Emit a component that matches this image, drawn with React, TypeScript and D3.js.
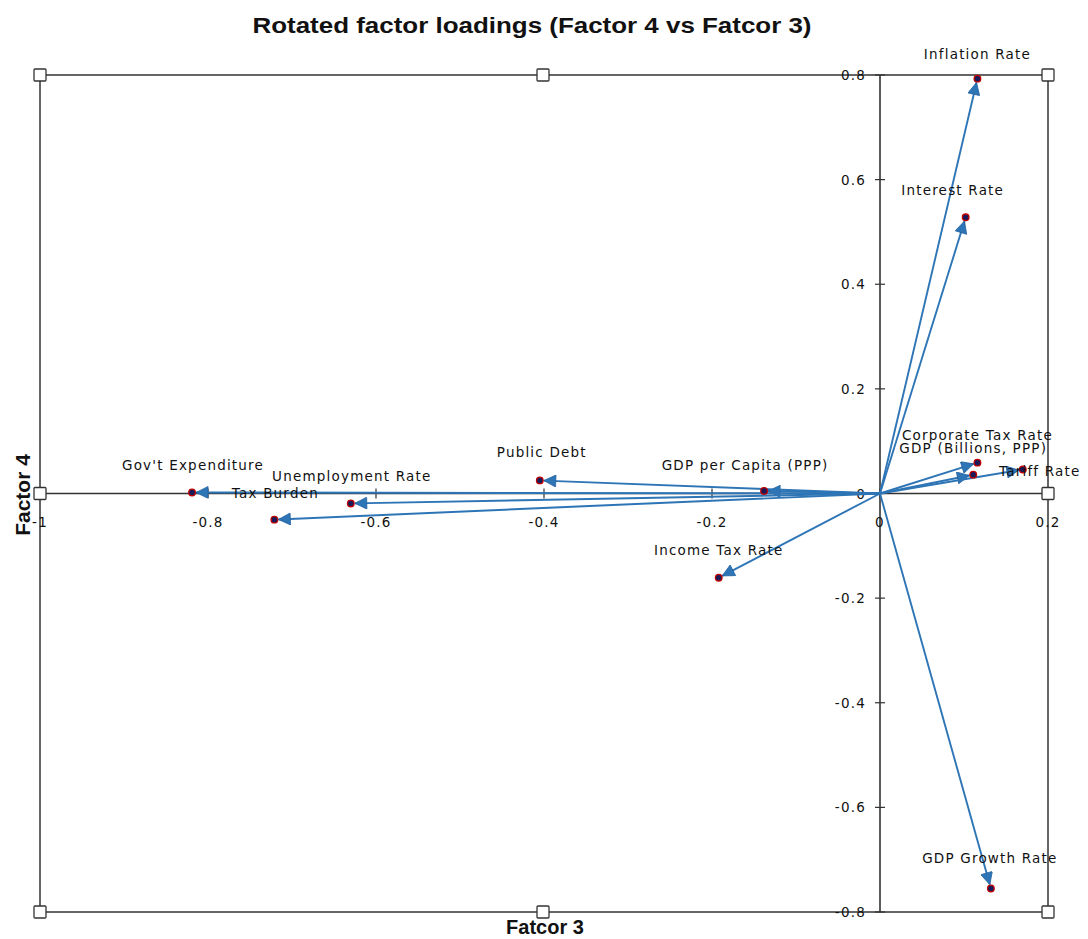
import React from 'react';
import * as d3 from 'd3';

const variables = [
  'Inflation Rate', 'Interest Rate', 'Corporate Tax Rate', 'GDP (Billions, PPP)', 'Tariff Rate',
  'GDP Growth Rate', 'Income Tax Rate', 'GDP per Capita (PPP)', 'Public Debt', "Gov't Expenditure",
  'Unemployment Rate', 'Tax Burden',
];
const factor3 = [0.116, 0.102, 0.116, 0.111, 0.170, 0.132, -0.192, -0.138, -0.405, -0.819, -0.630, -0.721];
const factor4 = [0.793, 0.528, 0.059, 0.036, 0.046, -0.755, -0.161, 0.005, 0.025, 0.002, -0.019, -0.050];
const xTicks = [-1, -0.8, -0.6, -0.4, -0.2, 0, 0.2];
const yTicks = [-0.8, -0.6, -0.4, -0.2, 0, 0.2, 0.4, 0.6, 0.8];
// label nudges (layout, px)
const labelDx = [0, -13, 0, 0, 17, -1, 0, -19, 2, 1, 1, 1];
const labelDy = [-25, -27, -28, -27, 2, -30, -28, -26, -28, -27, -27, -27];

const W = 1088, H = 939;
const L = 40, R = 1048, T = 75, B = 912;

export default function App() {
  const x = d3.scaleLinear().domain([-1, 0.2]).range([L, R]);
  const y = d3.scaleLinear().domain([-0.8, 0.8]).range([B, T]);
  const x0 = x(0), y0 = y(0);
  const blue = '#2E75B6';
  const lblFont = { fontFamily: 'DejaVu Sans', fontSize: 13.5, letterSpacing: 1.2 } as const;
  const handles = [[L, T], [543, T], [R, T], [L, y0], [R, y0], [L, B], [543, B], [R, B]];
  const fmt = (v: number) => {
    if (v === 0) return '0';
    const s = d3.format('.1f')(v).replace('\u2212', '-');
    return s === '-1.0' ? '-1' : s;
  };

  return (
    <svg width={W} height={H} style={{ position: 'absolute', left: 0, top: 0, background: '#fff' }}>
      <defs>
        <marker id="ah" viewBox="0 0 10 10" refX="10" refY="5" markerWidth="16" markerHeight="12"
          markerUnits="userSpaceOnUse" orient="auto">
          <path d="M0,0 L10,5 L0,10 Z" fill={blue} stroke="#1f5f9f" strokeWidth={0.6} />
        </marker>
      </defs>
      <text x={532} y={33} textAnchor="middle" fontFamily="Liberation Sans, Arial" fontWeight="bold"
        fontSize={22} textLength={559} lengthAdjust="spacingAndGlyphs" fill="#111">
        Rotated factor loadings (Factor 4 vs Fatcor 3)
      </text>
      {/* frame */}
      <rect x={L} y={T} width={R - L} height={B - T} fill="none" stroke="#333" strokeWidth={1.5} />
      {/* axes */}
      <line x1={L} x2={R} y1={y0} y2={y0} stroke="#333" strokeWidth={1.6} />
      <line x1={x0} x2={x0} y1={T} y2={B} stroke="#333" strokeWidth={1.6} />
      {xTicks.map((t) => (
        <g key={'xt' + t}>
          <line x1={x(t)} x2={x(t)} y1={y0 - 5} y2={y0 + 5} stroke="#333" strokeWidth={1.2} />
          <text x={x(t)} y={y0 + 33} textAnchor="middle" {...lblFont} fill="#111">{fmt(t)}</text>
        </g>
      ))}
      {yTicks.map((t) => (
        <g key={'yt' + t}>
          <line x1={x0 - 5} x2={x0 + 5} y1={y(t)} y2={y(t)} stroke="#333" strokeWidth={1.2} />
          <text x={x0 - 14} y={y(t)} dominantBaseline="central" textAnchor="end" {...lblFont} fill="#111">{fmt(t)}</text>
        </g>
      ))}
      {/* arrows */}
      {variables.map((v, i) => {
        const px = x(factor3[i]), py = y(factor4[i]);
        const dx = px - x0, dy = py - y0;
        const len = Math.hypot(dx, dy);
        const k = (len - 4) / len;
        return (
          <line key={'a' + v} x1={x0} y1={y0} x2={x0 + dx * k} y2={y0 + dy * k}
            stroke={blue} strokeWidth={1.9} markerEnd="url(#ah)" />
        );
      })}
      {variables.map((v, i) => (
        <circle key={'p' + v} cx={x(factor3[i])} cy={y(factor4[i])} r={3.3} fill="#1a1a5a" stroke="#c00000" strokeWidth={1.3} />
      ))}
      {variables.map((v, i) => (
        <text key={'l' + v} x={x(factor3[i]) + labelDx[i]} y={y(factor4[i]) + labelDy[i]}
          textAnchor="middle" dominantBaseline="central" {...lblFont} fill="#111">{v}</text>
      ))}
      {/* handles */}
      {handles.map(([hx, hy], i) => (
        <rect key={'h' + i} x={hx - 6} y={hy - 6} width={12} height={12} fill="#fff" stroke="#333" strokeWidth={1.3} rx={1} />
      ))}
      <text transform={`translate(30,495) rotate(-90)`} textAnchor="middle" fontFamily="Liberation Sans, Arial"
        fontWeight="bold" fontSize={21} fill="#111">Factor 4</text>
      <text x={545} y={934} textAnchor="middle" fontFamily="Liberation Sans, Arial" fontWeight="bold"
        fontSize={20} fill="#111">Fatcor 3</text>
    </svg>
  );
}
